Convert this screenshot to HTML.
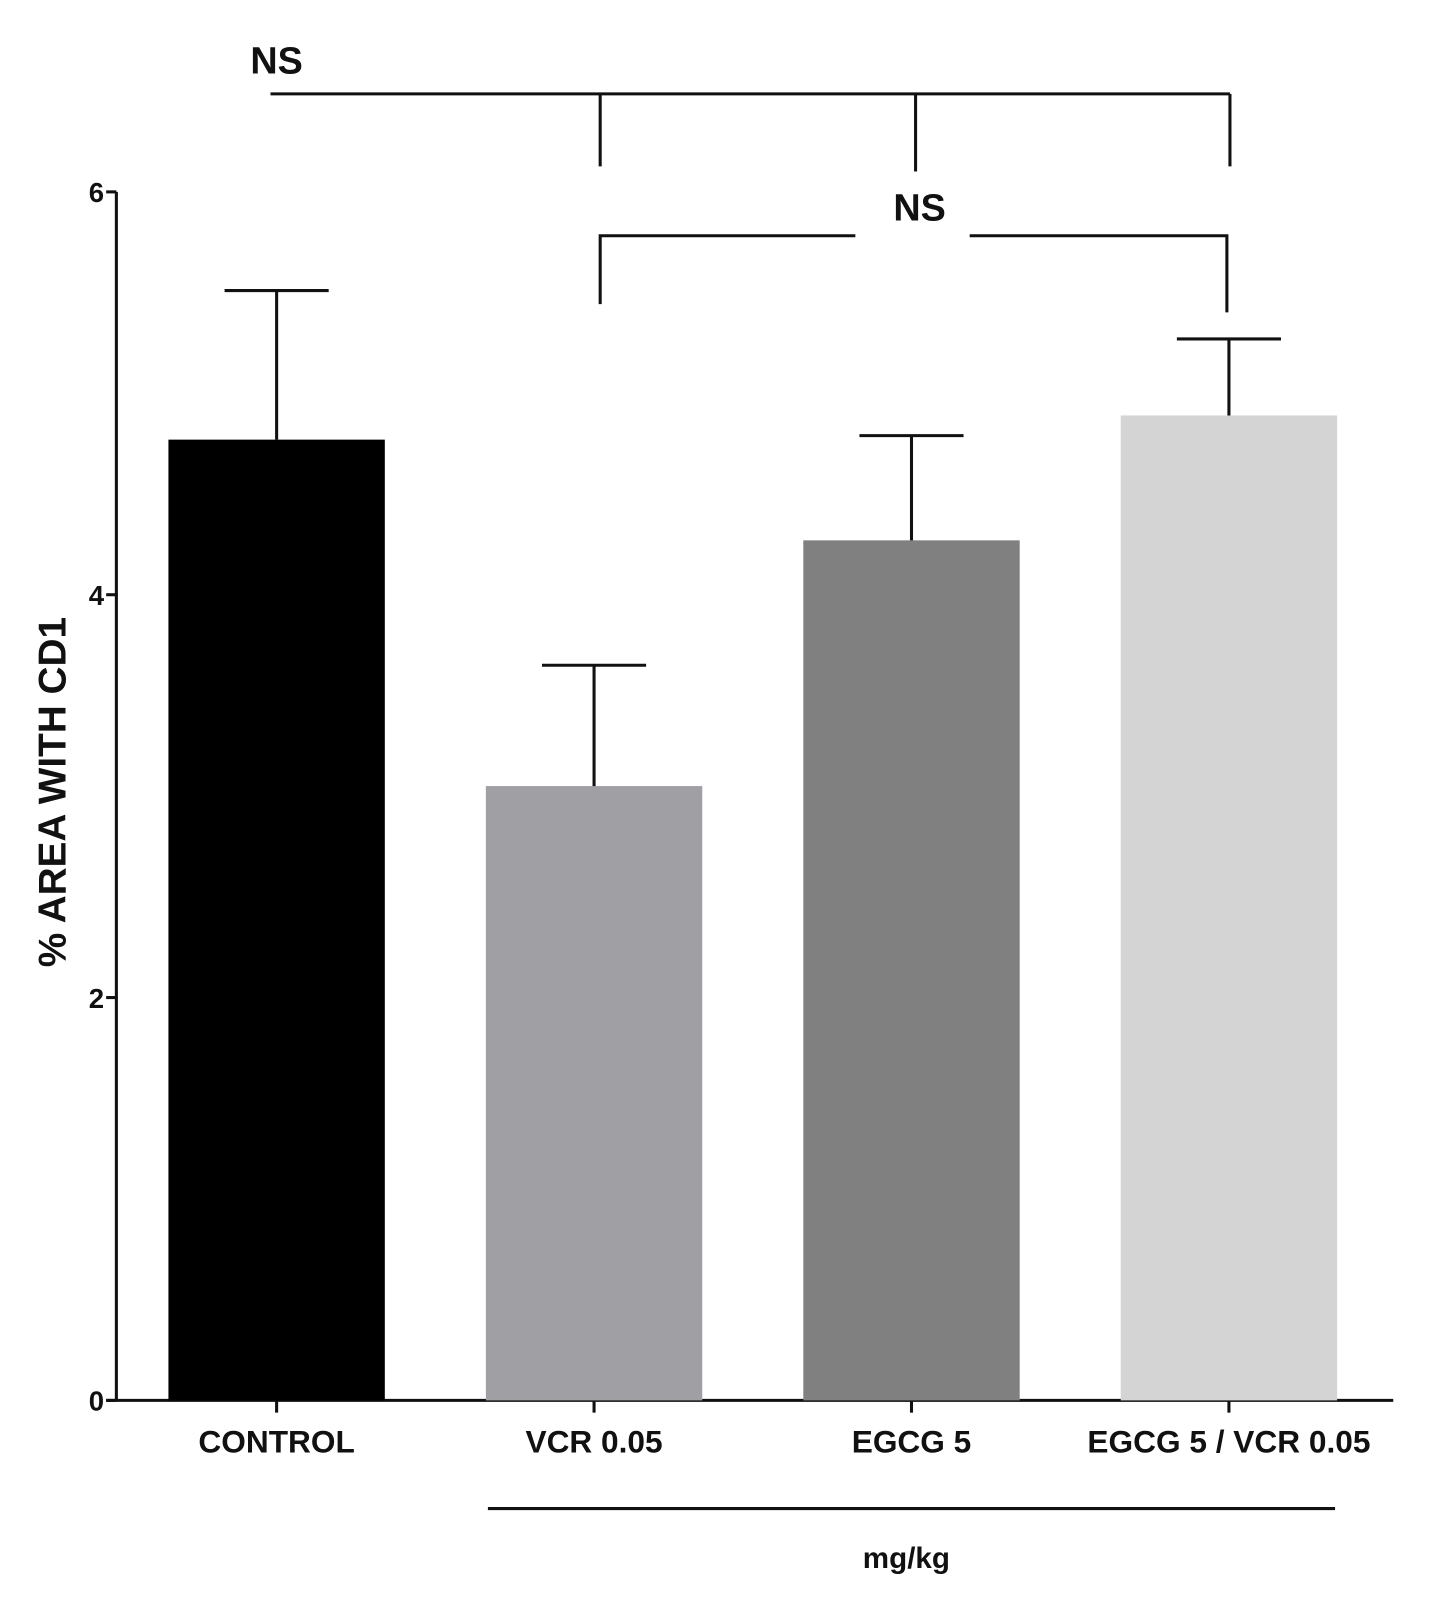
<!DOCTYPE html>
<html><head><meta charset="utf-8"><style>
html,body{margin:0;padding:0;background:#fff;}
svg{display:block;}
text{font-family:"Liberation Sans",Arial,sans-serif;font-weight:bold;fill:#111;}
</style></head><body>
<svg id="chart" width="1429" height="1598" viewBox="0 0 1400 1565.6">
<g id="axes"></g>
<g id="bars"></g>
<g id="annot"></g>
</svg>
<script>
const categories = ["CONTROL","VCR 0.05","EGCG 5","EGCG 5 / VCR 0.05"];
const means = [4.77, 3.05, 4.27, 4.89];
const errors = [0.74, 0.60, 0.52, 0.38];
const colors = ["#000000","#a0a0a4","#808080","#d4d4d4"];
const yTicks = [0, 2, 4, 6];
const yTickLabels = ["0","2","4","6"];

const NS = "http://www.w3.org/2000/svg";
const y0 = 1372, yTop = 188, yMax = 6;
const yScale = v => y0 - v * (y0 - yTop) / yMax;
const xLeft = 114, band = 311, barW = 212, firstCenter = 271;
const xCenter = i => firstCenter + i * band;

function mk(tag, attrs, parent){
  const e = document.createElementNS(NS, tag);
  for (const k in attrs) e.setAttribute(k, attrs[k]);
  parent.appendChild(e); return e;
}
const axes = document.getElementById('axes');
const bars = document.getElementById('bars');
const annot = document.getElementById('annot');

let l = mk('line',{x1:xLeft,y1:yTop,x2:xLeft,y2:y0,stroke:'#111','stroke-width':3},axes);


l = mk('line',{x1:xLeft-10,y1:y0,x2:1365,y2:y0,stroke:'#111','stroke-width':3},axes);



yTicks.forEach((v,i)=>{
  const t = mk('line',{x1:xLeft-10,y1:yScale(v),x2:xLeft,y2:yScale(v),stroke:'#111','stroke-width':3},axes);
  
  
  const tx = mk('text',{x:xLeft-12,y:yScale(v)+10,'text-anchor':'end','font-size':27},axes);
  tx.textContent = yTickLabels[i];
  
  
});

let yl = mk('text',{x:0,y:0,'text-anchor':'middle','font-size':38,transform:'translate(64,776) rotate(-90)'},axes);
yl.textContent = '% AREA WITH CD1';



categories.forEach((c,i)=>{
  const cx = xCenter(i);
  const r = mk('rect',{x:cx-barW/2,y:yScale(means[i]),width:barW,height:y0-yScale(means[i]),fill:colors[i]},bars);
  
  
  const e = mk('line',{x1:cx,y1:yScale(means[i]),x2:cx,y2:yScale(means[i]+errors[i]),stroke:'#111','stroke-width':3},bars);
  
  
  const cap = mk('line',{x1:cx-51,y1:yScale(means[i]+errors[i]),x2:cx+51,y2:yScale(means[i]+errors[i]),stroke:'#111','stroke-width':3},bars);
  
  
  const tk = mk('line',{x1:cx,y1:y0,x2:cx,y2:y0+12,stroke:'#111','stroke-width':3},axes);
  
  
  const lb = mk('text',{x:cx,y:1423,'text-anchor':'middle','font-size':31},axes);
  lb.textContent = c;
  
  
});

const ann = `
<path d="M265 92 H1205 M588 92 V163 M897 92 V168 M1205 92 V163" stroke="#111" stroke-width="3" fill="none"/>
<text x="271" y="72" text-anchor="middle" font-size="37">NS</text>
<path d="M588 298 V231 H838 M950 231 H1202 V306" stroke="#111" stroke-width="3" fill="none"/>
<text x="901" y="216" text-anchor="middle" font-size="37">NS</text>
<line x1="478" y1="1478" x2="1308" y2="1478" stroke="#111" stroke-width="3"/>
<text x="888" y="1536" text-anchor="middle" font-size="29">mg/kg</text>`;
annot.innerHTML = ann;
</script>
</body></html>
